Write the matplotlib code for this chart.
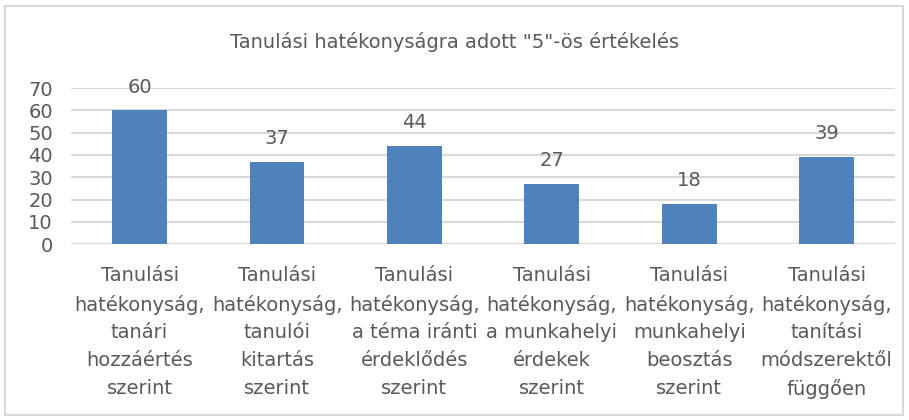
import matplotlib
matplotlib.use("Agg")
from matplotlib import pyplot as plt
from matplotlib.patches import Rectangle

categories = [
    "Tanulási\nhatékonyság,\ntanári\nhozzáértés\nszerint",
    "Tanulási\nhatékonyság,\ntanulói\nkitartás\nszerint",
    "Tanulási\nhatékonyság,\na téma iránti\nérdeklődés\nszerint",
    "Tanulási\nhatékonyság,\na munkahelyi\nérdekek\nszerint",
    "Tanulási\nhatékonyság,\nmunkahelyi\nbeosztás\nszerint",
    "Tanulási\nhatékonyság,\ntanítási\nmódszerektől\nfüggően",
]
values = [60, 37, 44, 27, 18, 39]
yticks = [0, 10, 20, 30, 40, 50, 60, 70]

TEXT = "#595959"
plt.rcParams["font.family"] = ["DejaVu Sans"]

fig = plt.figure(figsize=(9.09, 4.2), dpi=100)
fig.patches.append(
    Rectangle((5 / 909, 5 / 420), 898 / 909, 409 / 420, transform=fig.transFigure,
              fill=False, edgecolor="#d9d9d9", linewidth=1.5)
)
ax = fig.add_axes([0.078, 0.419, 0.907, 0.371])

x = range(len(values))
bars = ax.bar(x, values, width=0.4, color="#4f81bd", zorder=3)
for b, v in zip(bars, values):
    ax.annotate(str(v), (b.get_x() + b.get_width() / 2, v), xytext=(0, 10),
                textcoords="offset points", ha="center", va="bottom",
                fontsize=14, color=TEXT)

ax.set_xlim(-0.5, len(values) - 0.5)
ax.set_ylim(0, 70)
ax.set_yticks(yticks)
ax.set_yticklabels([str(t) for t in yticks], fontsize=14, color=TEXT)
ax.set_xticks(list(x))
ax.set_xticklabels(categories, fontsize=14, color=TEXT, linespacing=1.58)
ax.tick_params(axis="both", length=0)
ax.tick_params(axis="y", pad=13)
ax.tick_params(axis="x", pad=16)
ax.grid(axis="y", color="#d9d9d9", linewidth=1.5, zorder=0)
for s in ax.spines.values():
    s.set_visible(False)

fig.text(0.5, 0.9, 'Tanulási hatékonyságra adott "5"-ös értékelés',
         ha="center", va="center", fontsize=14, color=TEXT)

fig.savefig("out.png", dpi=100)
